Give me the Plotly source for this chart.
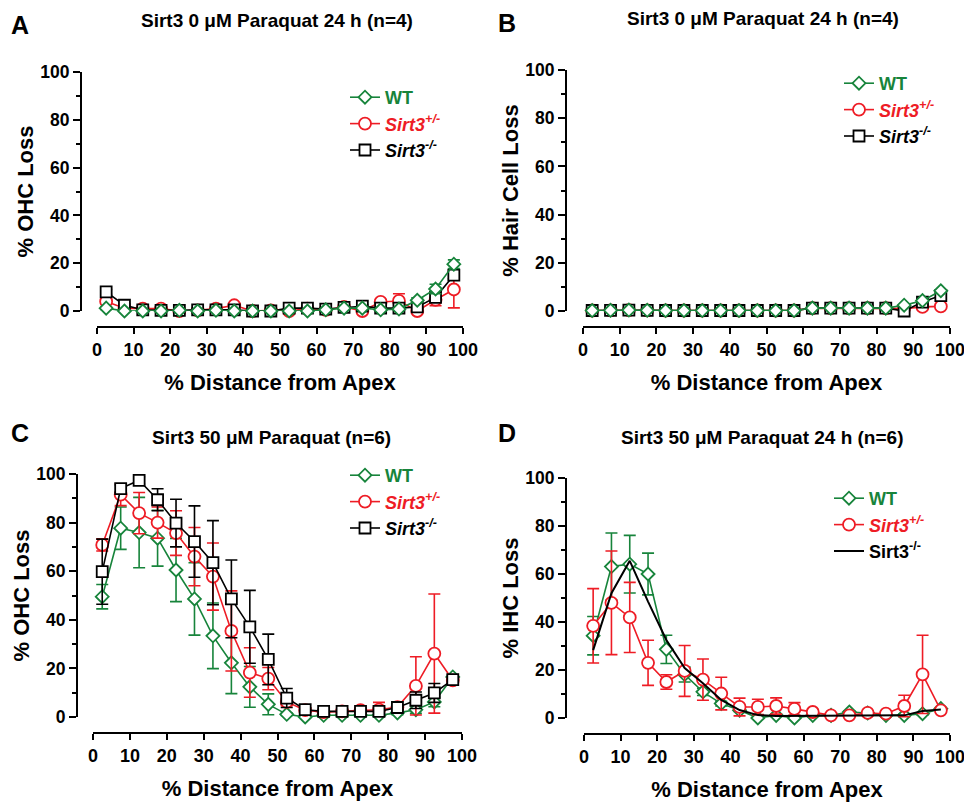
import plotly.graph_objects as go

# the page puts the figure 8 px in from the top-left corner
OFF = 8
W, H = 972 - OFF, 802 - OFF

# distance from apex (%), centre of each 5 % segment
dist = [2.5, 7.5, 12.5, 17.5, 22.5, 27.5, 32.5, 37.5, 42.5, 47.5,
        52.5, 57.5, 62.5, 67.5, 72.5, 77.5, 82.5, 87.5, 92.5, 97.5]

# Panel A: OHC loss, 0 uM paraquat
a_wt = [1.2, 0.0, 0.0, 0.0, 0.3, 0.0, 0.3, 0.0, 0.0, 0.0,
        0.0, 0.0, 0.5, 1.2, 1.2, 0.5, 0.8, 4.5, 9.2, 19.6]
a_wt_err = [0.5, 0.3, 0.3, 0.3, 0.3, 0.3, 0.3, 0.3, 0.3, 0.3,
            0.3, 0.3, 0.3, 0.5, 0.5, 0.5, 0.5, 1.0, 2.0, 1.8]
a_het = [4.0, 1.2, 1.0, 1.0, 0.0, 0.3, 1.0, 2.4, 0.0, 0.3,
         0.0, 1.0, 0.5, 1.7, 0.0, 3.8, 4.2, 0.0, 4.7, 9.0]
a_het_err = [0.8, 0.5, 0.3, 0.3, 0.3, 0.3, 0.3, 0.5, 0.3, 0.3,
             0.3, 0.3, 0.3, 0.5, 0.3, 1.0, 3.0, 0.3, 2.5, 7.7]
a_ko = [8.0, 2.4, 0.5, 0.3, 0.3, 0.5, 0.5, 0.5, 0.0, 0.0,
        1.2, 1.2, 0.8, 1.5, 2.0, 1.2, 1.2, 1.7, 5.7, 15.0]
a_ko_err = [1.0, 0.5, 0.3, 0.3, 0.3, 0.3, 0.3, 0.3, 0.3, 0.3,
            0.3, 0.3, 0.3, 0.3, 0.5, 0.3, 0.3, 0.5, 1.5, 1.5]

# Panel B: hair cell loss, 0 uM paraquat
b_wt = [0.2, 0.3, 0.4, 0.3, 0.2, 0.2, 0.2, 0.2, 0.2, 0.2,
        0.2, 0.2, 1.2, 1.2, 1.2, 1.2, 1.2, 2.4, 4.3, 8.4]
b_het = [0.2, 0.3, 0.4, 0.3, 0.2, 0.2, 0.2, 0.2, 0.2, 0.2,
         0.2, 0.2, 1.2, 1.2, 1.2, 1.2, 1.2, 1.0, 1.7, 1.9]
b_ko = [0.2, 0.3, 0.4, 0.3, 0.2, 0.2, 0.2, 0.2, 0.2, 0.2,
        0.2, 0.2, 1.2, 1.2, 1.2, 1.2, 1.2, 0.0, 3.7, 6.4]

# Panel C: OHC loss, 50 uM paraquat
c_wt = [49.5, 77.7, 75.9, 73.6, 60.5, 48.6, 33.4, 22.3, 12.4, 5.2,
        1.1, 0.0, 0.7, 0.7, 0.7, 0.7, 1.7, 3.0, 6.2, 16.5]
c_wt_err = [5.0, 8.7, 14.5, 11.5, 13.0, 14.9, 13.5, 12.7, 8.4, 4.3,
            0.5, 0.5, 0.5, 0.5, 0.5, 0.5, 0.8, 1.5, 2.0, 1.0]
c_het = [70.8, 91.5, 83.9, 80.0, 75.7, 66.0, 57.8, 35.4, 18.3, 15.8,
         6.2, 2.8, 2.0, 2.3, 2.8, 3.0, 4.1, 12.8, 26.1, 15.1]
c_het_err = [2.5, 4.5, 8.5, 6.4, 9.2, 12.0, 13.8, 16.5, 10.2, 4.6,
             1.5, 0.8, 0.8, 0.8, 0.8, 3.0, 1.0, 12.0, 24.5, 1.0]
c_ko = [59.8, 94.0, 97.4, 89.4, 79.8, 72.2, 63.5, 48.6, 37.1, 23.7,
        7.8, 3.0, 2.3, 2.3, 2.3, 2.3, 3.9, 6.9, 9.9, 15.4]
c_ko_err = [13.4, 1.5, 1.5, 4.5, 9.8, 14.7, 17.3, 16.0, 15.0, 10.4,
            3.9, 0.8, 0.8, 0.8, 0.8, 0.8, 0.8, 3.4, 3.9, 1.0]

# Panel D: IHC loss, 50 uM paraquat
d_wt = [34.3, 63.1, 64.1, 60.0, 28.6, 18.1, 10.9, 6.0, 3.2, 0.0,
        1.1, 0.0, 1.1, 1.1, 2.5, 2.1, 1.1, 1.1, 1.8, 3.9]
d_wt_err = [8.0, 14.0, 12.0, 8.7, 5.9, 3.1, 1.5, 1.0, 0.5, 0.5,
            0.5, 0.5, 0.5, 0.5, 0.5, 0.5, 0.5, 0.5, 0.5, 0.5]
d_het = [38.4, 48.0, 41.9, 23.0, 15.0, 19.6, 16.0, 10.2, 4.6, 4.6,
         5.0, 3.8, 2.5, 1.1, 1.1, 2.1, 1.8, 5.0, 18.2, 3.2]
d_het_err = [15.5, 21.6, 14.6, 9.4, 3.0, 10.6, 8.6, 6.8, 3.7, 3.2,
             3.4, 2.6, 1.0, 0.5, 0.5, 0.5, 0.5, 4.5, 16.3, 0.5]
d_ko = [28.3, 52.0, 65.5, 48.5, 32.5, 20.8, 14.5, 7.5, 3.3, 1.2,
        0.8, 0.8, 0.8, 0.8, 0.8, 0.8, 0.8, 1.1, 2.9, 3.5]

GREEN = "#17843b"
RED = "#ee1c25"
BLACK = "#000000"
FONT = "Arial, Liberation Sans, sans-serif"

WT_NAME = '<b><span style="color:%s">WT</span></b>' % GREEN
HET_NAME = '<b><i><span style="color:%s">Sirt3<sup>+/-</sup></span></i></b>' % RED
KO_NAME = '<b><i>Sirt3<sup>-/-</sup></i></b>'
KO_NAME_D = '<b>Sirt3<sup>-/-</sup></b>'


def px(x):
    return (x - OFF) / W


def py(y):
    return 1 - (y - OFF) / H


# panel geometry in screen pixels: x0, x100, y100, y0, y-axis x, x-axis y
panels = [
    (97, 463, 72, 311, 81, 327),
    (583, 950, 70, 311, 566, 327),
    (93, 462, 474, 717, 77, 733),
    (584, 950, 478, 718, 566, 734),
]
ytitles = ["% OHC Loss", "% Hair Cell Loss", "% OHC Loss", "% IHC Loss"]

fig = go.Figure()


def add_series(i, y, err, name, color, symbol, size, legend, rank):
    sfx = "" if i == 0 else str(i + 1)
    fig.add_trace(go.Scatter(
        x=dist, y=y, name=name, mode="lines+markers",
        xaxis="x" + sfx, yaxis="y" + sfx, legend=legend,
        legendgroup=name + legend, legendrank=rank,
        line=dict(color=color, width=1.6),
        marker=dict(symbol=symbol, size=size, color="white",
                    line=dict(color=color, width=1.8)),
        error_y=dict(type="data", array=err, visible=err is not None,
                     color=color, thickness=1.6, width=6),
        cliponaxis=False,
    ))


add_series(0, a_het, a_het_err, HET_NAME, RED, "circle", 12, "legend", 2)
add_series(0, a_ko, a_ko_err, KO_NAME, BLACK, "square", 11, "legend", 3)
add_series(0, a_wt, a_wt_err, WT_NAME, GREEN, "diamond", 10, "legend", 1)

add_series(1, b_het, None, HET_NAME, RED, "circle", 12, "legend2", 2)
add_series(1, b_ko, None, KO_NAME, BLACK, "square", 11, "legend2", 3)
add_series(1, b_wt, None, WT_NAME, GREEN, "diamond", 10, "legend2", 1)

add_series(2, c_wt, c_wt_err, WT_NAME, GREEN, "diamond", 10, "legend3", 1)
add_series(2, c_het, c_het_err, HET_NAME, RED, "circle", 12, "legend3", 2)
add_series(2, c_ko, c_ko_err, KO_NAME, BLACK, "square", 11, "legend3", 3)

add_series(3, d_wt, d_wt_err, WT_NAME, GREEN, "diamond", 10, "legend4", 1)
add_series(3, d_het, d_het_err, HET_NAME, RED, "circle", 12, "legend4", 2)
fig.add_trace(go.Scatter(
    x=dist, y=d_ko, name=KO_NAME_D, mode="lines",
    xaxis="x4", yaxis="y4", legend="legend4", legendgroup="ko_d",
    legendrank=3, line=dict(color=BLACK, width=2), cliponaxis=False,
))

layout = {}
for i, (x0, x1, y1, y0, ypos, xpos) in enumerate(panels):
    sfx = "" if i == 0 else str(i + 1)
    layout["xaxis" + sfx] = dict(
        domain=[px(x0), px(x1)], range=[0, 100], anchor="free",
        position=py(xpos), tick0=0, dtick=10,
        ticks="outside", ticklen=6, tickwidth=2, tickcolor="black",
        showline=True, linewidth=2, linecolor="black",
        showgrid=False, zeroline=False, automargin=False,
        tickfont=dict(family=FONT, size=18, color="black", weight="bold"),
        title=dict(text="% Distance from Apex", standoff=15,
                   font=dict(family=FONT, size=22, color="black", weight="bold")),
    )
    layout["yaxis" + sfx] = dict(
        domain=[py(y0), py(y1)], range=[0, 100], anchor="free",
        position=px(ypos), tick0=0, dtick=20,
        ticks="outside", ticklen=7, tickwidth=2, tickcolor="black",
        minor=dict(dtick=10, ticks="outside", ticklen=4, tickwidth=2,
                   tickcolor="black", showgrid=False),
        showline=True, linewidth=2, linecolor="black",
        showgrid=False, zeroline=False, automargin=False,
        tickfont=dict(family=FONT, size=17.5, color="black", weight="bold"),
        title=dict(text=ytitles[i], standoff=0,
                   font=dict(family=FONT, size=22, color="black", weight="bold")),
    )

legend_pos = [(345, 79), (839, 65), (345, 457), (829, 480)]
for i, (lx, ly) in enumerate(legend_pos):
    key = "legend" if i == 0 else "legend%d" % (i + 1)
    layout[key] = dict(
        x=px(lx), y=py(ly), xanchor="left", yanchor="top",
        bgcolor="rgba(0,0,0,0)", borderwidth=0, itemwidth=30,
        tracegroupgap=3, traceorder="normal",
        font=dict(family=FONT, size=18, color="black"),
    )

fig.update_layout(
    width=W, height=H, margin=dict(l=0, r=0, t=0, b=0),
    paper_bgcolor="white", plot_bgcolor="white",
    font=dict(family=FONT, color="black"),
    showlegend=True,
    **layout,
)

# panel titles and letters
titles = [
    (277, 20, "Sirt3 0 μM Paraquat 24 h (n=4)"),
    (763, 19, "Sirt3 0 μM Paraquat 24 h (n=4)"),
    (271, 437, "Sirt3 50 μM Paraquat (n=6)"),
    (762, 437, "Sirt3 50 μM Paraquat 24 h (n=6)"),
]
for cx, cy, txt in titles:
    fig.add_annotation(x=px(cx), y=py(cy), xref="paper", yref="paper",
                       text="<b>%s</b>" % txt, showarrow=False,
                       xanchor="center", yanchor="middle",
                       font=dict(family=FONT, size=19, color="black"))

letters = [(20, 25, "A"), (507, 23, "B"), (20, 433, "C"), (507, 433, "D")]
for cx, cy, txt in letters:
    fig.add_annotation(x=px(cx), y=py(cy), xref="paper", yref="paper",
                       text="<b>%s</b>" % txt, showarrow=False,
                       xanchor="center", yanchor="middle",
                       font=dict(family=FONT, size=25, color="black"))

fig.write_html("out.html")
